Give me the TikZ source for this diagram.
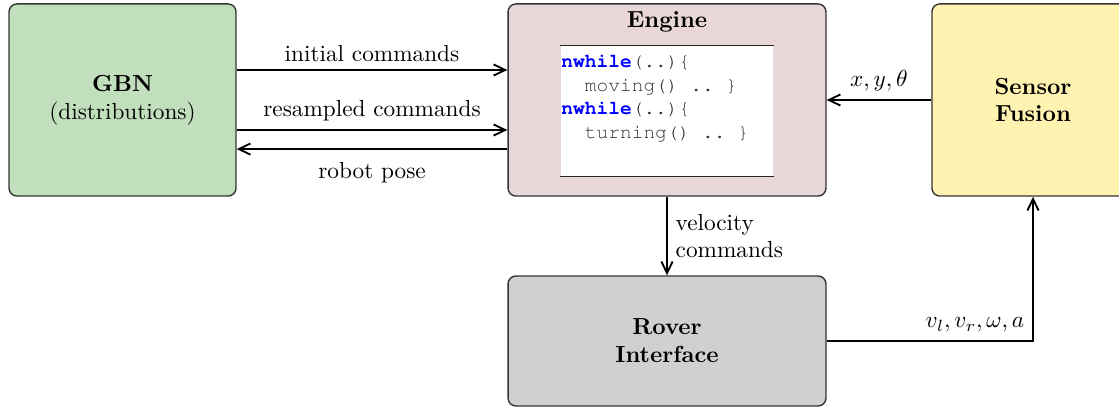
\documentclass[tikz,border=0pt]{standalone}
\usepackage[T1,TU]{fontenc}
\usetikzlibrary{arrows.meta}
\definecolor{gbnfill}{RGB}{194,223,189}
\definecolor{engfill}{RGB}{233,215,216}
\definecolor{senfill}{RGB}{255,243,178}
\definecolor{rovfill}{RGB}{208,208,208}
\definecolor{kwblue}{RGB}{0,0,255}
\newcommand{\mycodefont}{\fontencoding{T1}\fontfamily{pcr}\fontsize{8.4}{10}\selectfont}
\newcommand{\mykw}[1]{{\fontseries{b}\selectfont\color{kwblue}#1}}
\begin{document}
\begin{tikzpicture}[x=0.43pt,y=-0.43pt,
  blockbox/.style={draw=black!80, line width=0.6pt, rounded corners=3.4pt,
    minimum height=82.6pt, align=center, inner sep=0pt},
  arr/.style={line width=0.8pt, -{Straight Barb[length=5pt,width=4.8pt]}},
  codeline/.style={anchor=base west, inner sep=0pt, font=\mycodefont, text=black!80}]
\useasboundingbox (0,0) rectangle (1119,407);

\node[blockbox, fill=gbnfill, minimum width=97.6pt] (gbn) at (122.5,100)
  {\textbf{GBN}\\(distributions)};
\node[blockbox, fill=engfill, minimum width=136.7pt] (engine) at (667,100) {};
\node[blockbox, fill=senfill, minimum width=86.9pt] (sensor) at (1033,100)
  {\textbf{Sensor}\\\textbf{Fusion}};
\node[blockbox, fill=rovfill, minimum width=136.7pt, minimum height=55.9pt] (rover) at (667,341)
  {\textbf{Rover}\\\textbf{Interface}};

\node[anchor=north, font=\bfseries, inner sep=3.33pt] (engtitle) at (engine.north) {Engine};

\node[fill=white, minimum width=91.2pt, minimum height=55.9pt, inner sep=0pt] (codebox) at (667,110.7) {};
\draw[line width=0.5pt, black!85] (codebox.north west) -- (codebox.north east);
\draw[line width=0.5pt, black!85] (codebox.south west) -- (codebox.south east);

\node[codeline] (c1) at (561,67.7) {\mykw{nwhile}(..)\{};
\node[codeline] (c2) at (561,91.5) {\phantom{xx}moving()\ ..\ \}};
\node[codeline] (c3) at (561,115) {\mykw{nwhile}(..)\{};
\node[codeline] (c4) at (561,138.7) {\phantom{xx}turning()\ ..\ \}};

\draw[arr] ([yshift=12.9pt]gbn.east) -- ([yshift=12.9pt]engine.west)
  node[midway, above] (l1) {initial commands};
\draw[arr] ([yshift=-12.9pt]gbn.east) -- ([yshift=-12.9pt]engine.west)
  node[midway, above] (l2) {resampled commands};
\draw[arr] ([yshift=-21.1pt]engine.west) -- ([yshift=-21.1pt]gbn.east)
  node[midway, below, yshift=-2pt] (l3) {robot pose};
\draw[arr] (sensor.west) -- (engine.east)
  node[midway, above] (l4) {$x,y,\theta$};
\draw[arr] (engine.south) -- (rover.north)
  node[midway, right, align=left] (l5) {velocity\\commands};
\draw[arr] (rover.east) -| (sensor.south)
  node[pos=0.5, above left] (l6) {$v_l,v_r,\omega,a$};
\end{tikzpicture}
\end{document}
